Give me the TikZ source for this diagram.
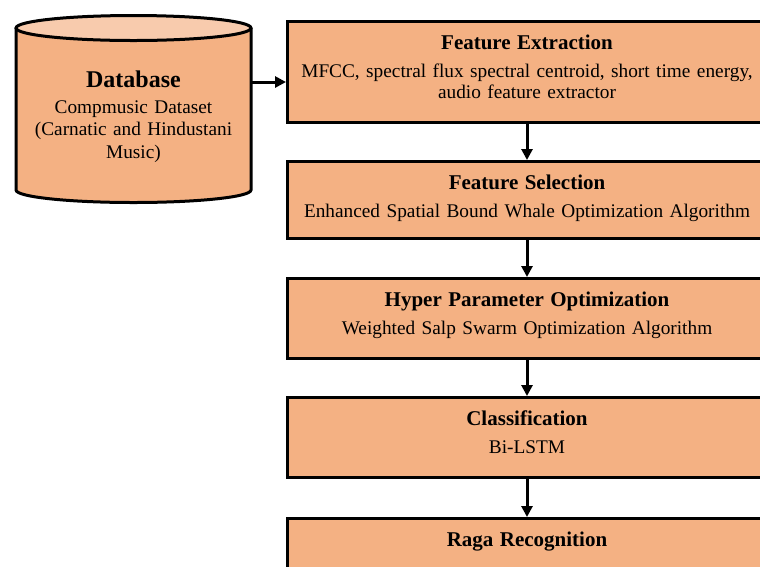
\documentclass[tikz,border=0pt]{standalone}
\usepackage{fontspec}
\setmainfont{Liberation Serif}
\usetikzlibrary{arrows.meta,positioning,calc}
\definecolor{boxfill}{RGB}{244,177,131}
\definecolor{topfill}{RGB}{248,203,173}

\newcommand{\stagetitle}[1]{{\fontsize{21}{21}\selectfont\bfseries #1}\\[7pt]}

\tikzset{
  stagebox/.style={draw=black, line width=3pt, fill=boxfill,
    minimum width=479pt, text width=471pt, align=center,
    font=\fontsize{19.3}{21}\selectfont, inner sep=4pt,
    text height=23.5pt, text depth=#1},
  flowarrow/.style={-{Triangle[width=11pt,length=11pt]}, line width=3pt}
}

\begin{document}
\begin{tikzpicture}[x=1pt,y=1pt]
  \useasboundingbox (0,0) rectangle (760,-566);
  % database cylinder
  \draw[line width=3pt, fill=boxfill] (16,-28) -- (16,-190)
    arc[start angle=180, end angle=360, x radius=117.5, y radius=12.5]
    -- (251,-28);
  \draw[line width=3pt, fill=topfill] (133.5,-28) ellipse[x radius=117.5, y radius=12.5];
  \node[text width=229pt, align=center, anchor=base, inner sep=4pt,
        font=\fontsize{19.3}{22.5}\selectfont] (db) at (133.5,-87)
    {{\fontsize{24}{22}\selectfont\bfseries Database}\\[3.5pt]Compmusic Dataset\\(Carnatic and Hindustani\\Music)};
  % stages
  \node[stagebox=69.5pt, anchor=north west] (fe) at (286,-20)
    {\stagetitle{Feature Extraction}MFCC, spectral flux spectral centroid, short time energy,\\audio feature extractor};
  \node[stagebox=45.5pt, below=36pt of fe] (fs)
    {\stagetitle{Feature Selection}Enhanced Spatial Bound Whale Optimization Algorithm};
  \node[stagebox=48.5pt, below=37pt of fs] (hp)
    {\stagetitle{Hyper Parameter Optimization}Weighted Salp Swarm Optimization Algorithm};
  \node[stagebox=48.5pt, below=36pt of hp] (cl)
    {\stagetitle{Classification}Bi-LSTM};
  \node[stagebox=48.5pt, below=38pt of cl] (rr)
    {{\fontsize{21}{21}\selectfont\bfseries Raga Recognition}};
  % connectors
  \draw[flowarrow] (db.east |- 0,-82) -- (fe.west |- 0,-82);
  \draw[flowarrow] (fe) -- (fs);
  \draw[flowarrow] (fs) -- (hp);
  \draw[flowarrow] (hp) -- (cl);
  \draw[flowarrow] (cl) -- (rr);
\end{tikzpicture}
\end{document}
